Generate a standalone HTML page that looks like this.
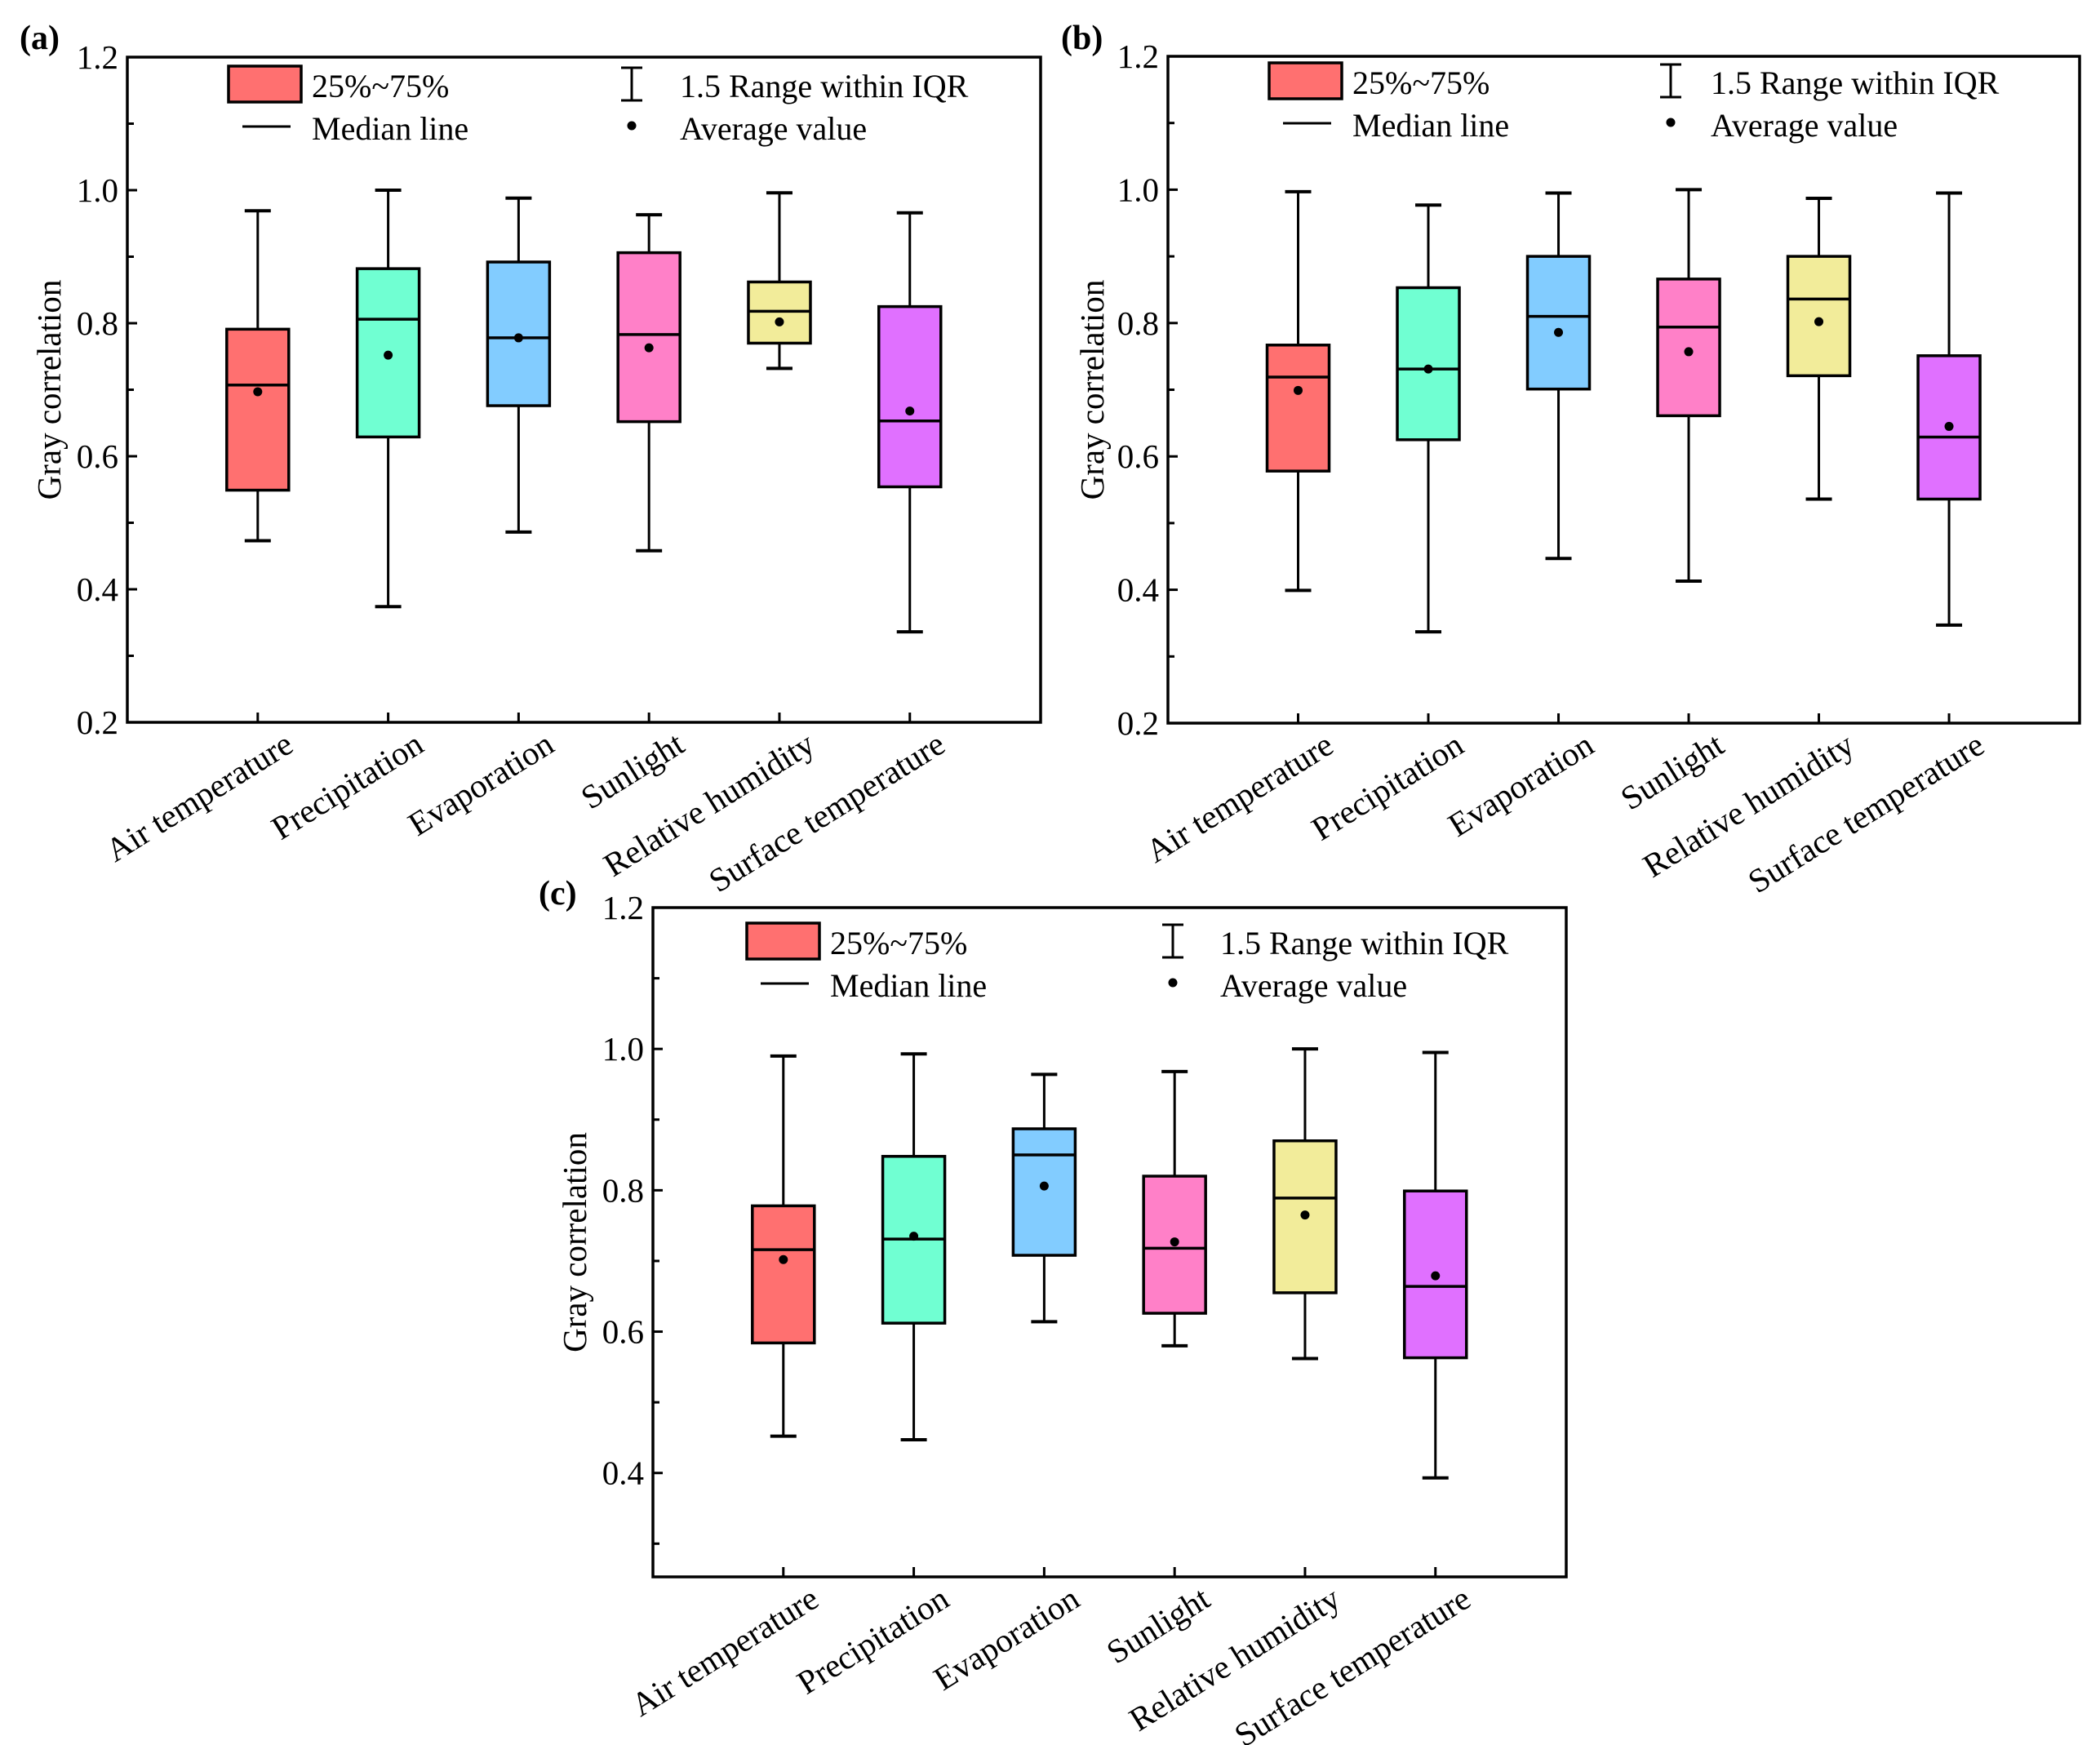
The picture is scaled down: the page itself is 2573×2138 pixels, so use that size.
<!DOCTYPE html>
<html><head><meta charset="utf-8">
<style>
html,body{margin:0;padding:0;background:#fff;}
svg{display:block;font-family:"Liberation Serif",serif;}
</style></head>
<body>
<svg id="fig" width="2573" height="2138" viewBox="0 0 2573 2138" xmlns="http://www.w3.org/2000/svg"></svg>
<script>
const categories = ["Air temperature","Precipitation","Evaporation","Sunlight","Relative humidity","Surface temperature"];
const colors = ["#FF7070","#70FFD2","#82CCFF","#FF80C8","#F2EC9A","#E070FF"];
// panel (a)
const aMax = [0.969,1.000,0.988,0.963,0.996,0.966];
const aQ3  = [0.791,0.882,0.892,0.906,0.862,0.825];
const aMed = [0.707,0.806,0.778,0.783,0.818,0.653];
const aMean= [0.697,0.752,0.778,0.763,0.802,0.668];
const aQ1  = [0.549,0.629,0.676,0.652,0.770,0.554];
const aMin = [0.473,0.374,0.486,0.458,0.732,0.336];
// panel (b)
const bMax = [0.997,0.977,0.995,1.000,0.987,0.995];
const bQ3  = [0.767,0.853,0.900,0.866,0.900,0.751];
const bMed = [0.719,0.731,0.810,0.794,0.836,0.629];
const bMean= [0.699,0.731,0.786,0.757,0.802,0.645];
const bQ1  = [0.578,0.625,0.701,0.661,0.721,0.536];
const bMin = [0.399,0.337,0.447,0.413,0.536,0.347];
// panel (c)
const cMax = [0.990,0.993,0.964,0.968,1.000,0.995];
const cQ3  = [0.778,0.848,0.887,0.820,0.870,0.799];
const cMed = [0.716,0.731,0.850,0.718,0.789,0.664];
const cMean= [0.702,0.735,0.806,0.727,0.765,0.679];
const cQ1  = [0.584,0.612,0.708,0.626,0.655,0.563];
const cMin = [0.452,0.447,0.614,0.580,0.562,0.393];
const tickLabelsAB = ["0.2","0.4","0.6","0.8","1.0","1.2"];
const tickLabelsC = ["0.4","0.6","0.8","1.0","1.2"];

const NS="http://www.w3.org/2000/svg";
const svg=document.getElementById('fig');
function mk(tag,attrs,parent,text){const e=document.createElementNS(NS,tag);for(const k in attrs)e.setAttribute(k,attrs[k]);if(text!==undefined)e.textContent=text;(parent||svg).appendChild(e);return e;}

function panel(cfg){
  const g=mk('g',{});
  
  
  const L=cfg.L,R=cfg.R,T=cfg.T,B=cfg.B;
  const y=v=>B-(v-cfg.ymin)/(cfg.ymax-cfg.ymin)*(B-T);
  const xs=i=>L+(R-L)*(0.1428+i*0.1428);
  categories.forEach((c,i)=>{
    const cx=xs(i),hw=38;
    const bg=mk('g',{},g);
    
    
    mk('line',{x1:cx,x2:cx,y1:y(cfg.max[i]),y2:y(cfg.q3[i]),stroke:'#000','stroke-width':3},bg);
    mk('line',{x1:cx,x2:cx,y1:y(cfg.q1[i]),y2:y(cfg.min[i]),stroke:'#000','stroke-width':3},bg);
    mk('line',{x1:cx-16,x2:cx+16,y1:y(cfg.max[i]),y2:y(cfg.max[i]),stroke:'#000','stroke-width':4},bg);
    mk('line',{x1:cx-16,x2:cx+16,y1:y(cfg.min[i]),y2:y(cfg.min[i]),stroke:'#000','stroke-width':4},bg);
    mk('rect',{x:cx-hw,y:y(cfg.q3[i]),width:2*hw,height:y(cfg.q1[i])-y(cfg.q3[i]),fill:colors[i],stroke:'#000','stroke-width':3.5},bg);
    mk('line',{x1:cx-hw,x2:cx+hw,y1:y(cfg.med[i]),y2:y(cfg.med[i]),stroke:'#000','stroke-width':3.5},bg);
    mk('circle',{cx:cx,cy:y(cfg.mean[i]),r:5.5,fill:'#000'},bg);
    mk('line',{x1:cx,x2:cx,y1:B,y2:B-12,stroke:'#000','stroke-width':3},g);
    const t=mk('text',{x:cx+46,y:B+34,'font-size':41,'text-anchor':'end',transform:`rotate(-32 ${cx+46} ${B+34})`},g,c);
    
    
  });
  const fr=mk('rect',{x:L,y:T,width:R-L,height:B-T,fill:'none',stroke:'#000','stroke-width':3.5},g);
  
  
  cfg.ticks.forEach(lbl=>{
    const v=parseFloat(lbl),yy=y(v);
    mk('line',{x1:L,x2:L+12,y1:yy,y2:yy,stroke:'#000','stroke-width':3},g);
    const t=mk('text',{x:L-11,y:yy+14,'font-size':41,'text-anchor':'end'},g,lbl);
    
    
    const mv=v-0.1;
    if(mv>=cfg.ymin-0.001){mk('line',{x1:L,x2:L+8,y1:y(mv),y2:y(mv),stroke:'#000','stroke-width':3},g);}
  });
  const yl=mk('text',{x:cfg.ylx,y:(T+B)/2,'font-size':41,'text-anchor':'middle',transform:`rotate(-90 ${cfg.ylx} ${(T+B)/2})`},g,'Gray correlation');
  
  
  const pl=mk('text',{x:cfg.plx,y:cfg.ply,'font-size':42,'font-weight':'bold'},g,'('+cfg.id+')');
  
  
  const lg=mk('g',{},g);
  
  
  const lx=cfg.legX,ly=cfg.legY,ix=cfg.iqrX,tx=cfg.iqrT;
  mk('rect',{x:lx,y:ly,width:89,height:44,fill:colors[0],stroke:'#000','stroke-width':3.5},lg);
  mk('text',{x:lx+102,y:ly+38,'font-size':40},lg,'25%~75%');
  mk('line',{x1:lx+17,x2:lx+76,y1:ly+74,y2:ly+74,stroke:'#000','stroke-width':3},lg);
  mk('text',{x:lx+102,y:ly+90,'font-size':40},lg,'Median line');
  mk('line',{x1:ix,x2:ix,y1:ly+2,y2:ly+42,stroke:'#000','stroke-width':3},lg);
  mk('line',{x1:ix-13,x2:ix+13,y1:ly+2,y2:ly+2,stroke:'#000','stroke-width':3},lg);
  mk('line',{x1:ix-13,x2:ix+13,y1:ly+42,y2:ly+42,stroke:'#000','stroke-width':3},lg);
  mk('text',{x:tx,y:ly+38,'font-size':40},lg,'1.5 Range within IQR');
  mk('circle',{cx:ix,cy:ly+73,r:5.5,fill:'#000'},lg);
  mk('text',{x:tx,y:ly+90,'font-size':40},lg,'Average value');
}

panel({id:'a',L:156,R:1275,T:70,B:885,ymin:0.2,ymax:1.2,ticks:tickLabelsAB,
  max:aMax,q3:aQ3,med:aMed,mean:aMean,q1:aQ1,min:aMin,ylx:74,plx:24,ply:60,
  legX:280,legY:81,iqrX:774,iqrT:833});
panel({id:'b',L:1431,R:2548,T:69,B:886,ymin:0.2,ymax:1.2,ticks:tickLabelsAB,
  max:bMax,q3:bQ3,med:bMed,mean:bMean,q1:bQ1,min:bMin,ylx:1352,plx:1300,ply:60,
  legX:1555,legY:77,iqrX:2047,iqrT:2096});
panel({id:'c',L:800,R:1919,T:1112,B:1932,ymin:0.253,ymax:1.2,ticks:tickLabelsC,
  max:cMax,q3:cQ3,med:cMed,mean:cMean,q1:cQ1,min:cMin,ylx:718,plx:660,ply:1108,
  legX:915,legY:1131,iqrX:1437,iqrT:1495});
</script>
</body></html>
